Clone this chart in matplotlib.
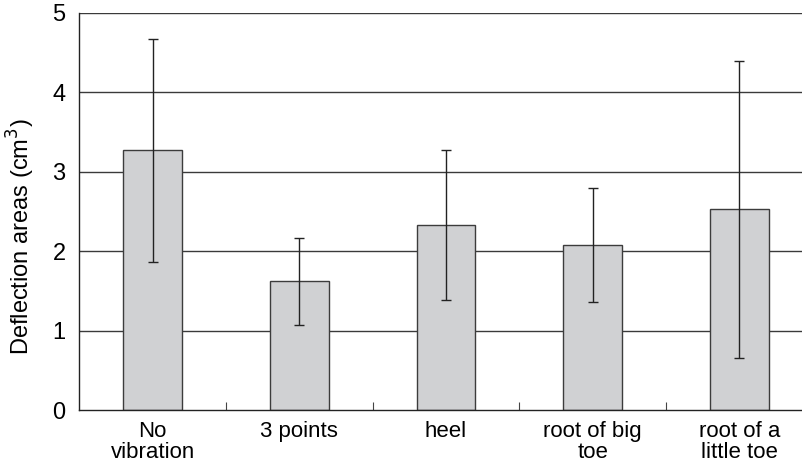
import matplotlib.pyplot as plt

plt.rcParams['font.family'] = ['Liberation Sans', 'DejaVu Sans']

# ---- data ----
categories = ["No\nvibration", "3 points", "heel", "root of big\ntoe", "root of a\nlittle toe"]
means = [3.27, 1.62, 2.33, 2.08, 2.53]
sds = [1.40, 0.55, 0.95, 0.72, 1.87]

fig = plt.figure(figsize=(8.03, 4.69), dpi=100)
ax = fig.add_axes([79.5 / 803, 59 / 469, 733 / 803, 397 / 469])

x = list(range(len(categories)))

# grid lines behind the bars
for v in [1, 2, 3, 4, 5]:
    ax.axhline(v, color='#3a3a3a', lw=1.0, zorder=0)

ax.bar(x, means, width=0.4, color='#d0d1d3', edgecolor='#3c3c3c', lw=1.0, zorder=2)
ax.errorbar(x, means, yerr=sds, fmt='none', ecolor='#222222', elinewidth=1.0,
            capsize=3.5, capthick=1.0, zorder=3)

ax.set_xlim(-0.5, 4.5)
ax.set_ylim(0, 5)
ax.set_yticks([0, 1, 2, 3, 4, 5])
ax.tick_params(axis='y', length=0, pad=10, labelsize=17)

ax.set_xticks(x)
ax.set_xticklabels(categories, fontsize=16, linespacing=1.0)
ax.set_xticks([0.5, 1.5, 2.5, 3.5], minor=True)
ax.tick_params(axis='x', which='major', length=0, pad=8)
ax.tick_params(axis='x', which='minor', direction='in', length=6, width=0.8, color='#444444')

for s in ['top', 'right']:
    ax.spines[s].set_visible(False)
ax.spines['left'].set_color('#222222')
ax.spines['bottom'].set_color('#222222')
ax.spines['left'].set_linewidth(1.0)
ax.spines['bottom'].set_linewidth(1.0)

ax.set_ylabel("Deflection areas (cm$^3$)", fontsize=17)
ax.yaxis.set_label_coords(-0.058, 0.436)

fig.savefig("out.png", dpi=100)
